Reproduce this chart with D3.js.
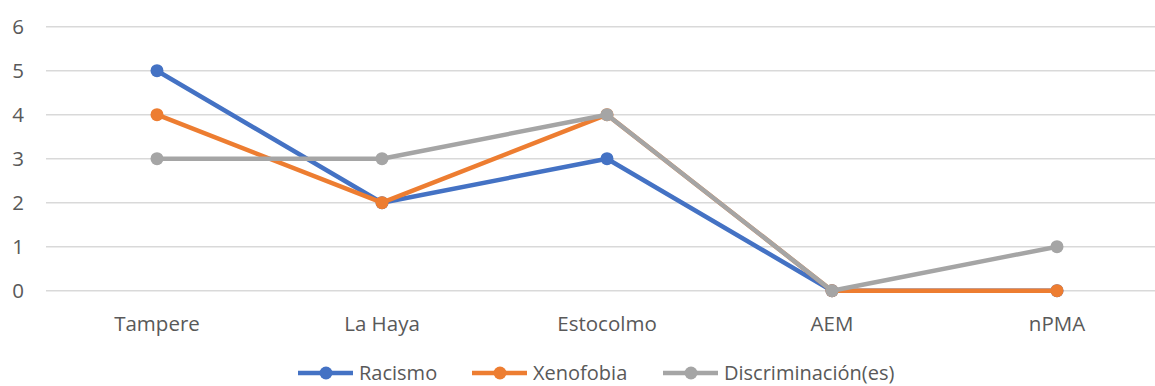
<!DOCTYPE html>
<html>
<head>
<meta charset="utf-8">
<script src="https://cdn.jsdelivr.net/npm/d3@7"></script>
<style>
  body { margin: 0; background: #fff; overflow: hidden; }
  svg text { font-family: "Open Sans", sans-serif; fill: #595959; }
</style>
</head>
<body>
<script>
//chart data
var categories = ["Tampere", "La Haya", "Estocolmo", "AEM", "nPMA"];
var seriesNames = ["Racismo", "Xenofobia", "Discriminación(es)"];
var racismo = [5, 2, 3, 0, 0];
var xenofobia = [4, 2, 4, 0, 0];
var discriminacion = [3, 3, 4, 0, 1];
var yTicks = [0, 1, 2, 3, 4, 5, 6];
var colors = ["#4472C4", "#ED7D31", "#A5A5A5"];

var seriesValues = [racismo, xenofobia, discriminacion];

var width = 1155, height = 386;

var svg = d3.select("body").append("svg")
    .attr("width", width)
    .attr("height", height);

//scales
var x = d3.scalePoint()
    .domain(categories)
    .range([44.5, 1169.5])
    .padding(0.5);

var y = d3.scaleLinear()
    .domain([0, 6])
    .range([290.7, 26.7]);

//gridlines
svg.selectAll(".grid")
    .data(yTicks)
    .enter()
    .append("line")
    .attr("class", "grid")
    .attr("x1", 46)
    .attr("x2", width)
    .attr("y1", function(d){ return y(d); })
    .attr("y2", function(d){ return y(d); })
    .style("stroke", "#d9d9d9")
    .style("stroke-width", 1.5);

//y axis labels
svg.selectAll(".ylab")
    .data(yTicks)
    .enter()
    .append("text")
    .attr("x", 24)
    .attr("y", function(d){ return y(d); })
    .attr("dy", "0.36em")
    .attr("text-anchor", "end")
    .style("font-size", "20.5px")
    .text(function(d){ return d; });

//x axis labels
svg.selectAll(".xlab")
    .data(categories)
    .enter()
    .append("text")
    .attr("x", function(d){ return x(d); })
    .attr("y", 331)
    .attr("text-anchor", "middle")
    .style("font-size", "20.5px")
    .text(function(d){ return d; });

//lines and markers
var line = d3.line()
    .x(function(d, i){ return x(categories[i]); })
    .y(function(d){ return y(d); });

seriesValues.forEach(function(vals, s){
    svg.append("path")
        .datum(vals)
        .attr("d", line)
        .style("fill", "none")
        .style("stroke", colors[s])
        .style("stroke-width", 4.5)
        .style("stroke-linejoin", "round");

    svg.selectAll(".dot" + s)
        .data(vals)
        .enter()
        .append("circle")
        .attr("cx", function(d, i){ return x(categories[i]); })
        .attr("cy", function(d){ return y(d); })
        .attr("r", 6.5)
        .style("fill", colors[s]);
});

//legend
var legendX = [298, 472, 663];
var legend = svg.selectAll(".legend")
    .data(seriesNames)
    .enter()
    .append("g")
    .attr("transform", function(d, i){ return "translate(" + legendX[i] + ",373)"; });

legend.append("line")
    .attr("x1", 0)
    .attr("x2", 55)
    .style("stroke", function(d, i){ return colors[i]; })
    .style("stroke-width", 4.5);

legend.append("circle")
    .attr("cx", 28)
    .attr("r", 6.5)
    .style("fill", function(d, i){ return colors[i]; });

legend.append("text")
    .attr("x", 61)
    .attr("dy", "0.33em")
    .style("font-size", "20px")
    .text(function(d){ return d; });
</script>
</body>
</html>
